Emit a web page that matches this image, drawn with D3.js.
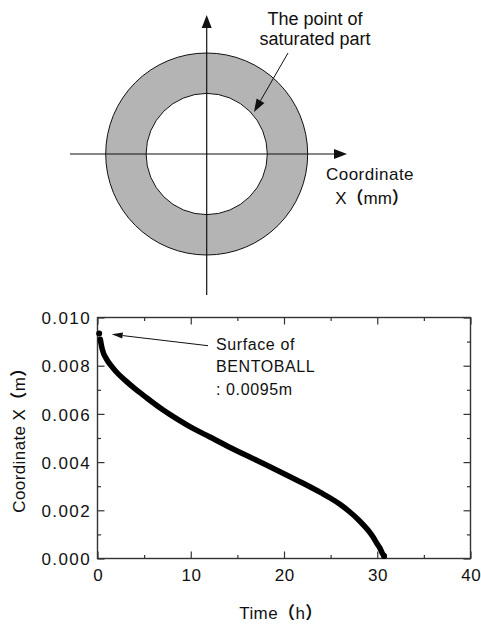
<!DOCTYPE html>
<html>
<head>
<meta charset="utf-8">
<script src="https://cdn.jsdelivr.net/npm/d3@7"></script>
<style>
  html, body { margin: 0; padding: 0; background: #fff; }
  svg { display: block; }
  text { font-family: "Liberation Sans", Arial, "Noto Sans CJK JP", sans-serif; fill: #111; }
  .paren { font-weight: 700; }
</style>
</head>
<body>
<svg id="chart" width="481" height="624"></svg>
<script>
// Saturation front position in the ball over time
const timeH = [0.18, 0.3, 0.5, 1, 1.5, 2, 3, 4, 5, 6, 7, 8, 9, 10, 12, 14, 16, 18, 20, 22, 24, 25, 26, 27, 28, 29, 29.5, 30, 30.3, 30.5, 30.73];
const coordX = [0.00934, 0.0091, 0.0087, 0.00825, 0.00798, 0.00775, 0.00738, 0.00705, 0.00675, 0.00645, 0.00617, 0.00592, 0.00568, 0.00545, 0.00505, 0.00465, 0.00427, 0.0039, 0.00352, 0.00313, 0.00272, 0.0025, 0.00225, 0.00195, 0.0016, 0.00118, 0.00092, 0.0006, 0.00042, 0.00025, 0.0001];

const xTicks = [0, 10, 20, 30, 40];
const yTicks = [0.000, 0.002, 0.004, 0.006, 0.008, 0.010];
const xMinor = [5, 15, 25, 35];
const yMinor = [0.001, 0.003, 0.005, 0.007, 0.009];

// Schematic ring of the ball cross-section (mm)
const ringRadii = { outer: 9.5, inner: 5.7 };

const svg = d3.select("#chart");

// text with bold full-width parentheses
function labelText(sel, str) {
  str.split(/([（）])/).filter(s => s.length).forEach(part => {
    const t = sel.append("tspan").text(part);
    if (part === "（" || part === "）") t.attr("class", "paren");
  });
  return sel;
}

// ---------- cross-section schematic ----------
const cx = 206.7, cy = 154;
const r = d3.scaleLinear().domain([0, ringRadii.outer]).range([0, 101]);

const ring = d3.arc()({ innerRadius: r(ringRadii.inner), outerRadius: r(ringRadii.outer), startAngle: 0, endAngle: 2 * Math.PI });
svg.append("path").attr("d", ring).attr("transform", `translate(${cx},${cy})`)
  .attr("fill", "#b4b4b4").attr("stroke", "none");
svg.append("circle").attr("cx", cx).attr("cy", cy).attr("r", r(ringRadii.outer))
  .attr("fill", "none").attr("stroke", "#111").attr("stroke-width", 1);
svg.append("circle").attr("cx", cx).attr("cy", cy).attr("r", r(ringRadii.inner))
  .attr("fill", "none").attr("stroke", "#111").attr("stroke-width", 1);

function arrow(x1, y1, x2, y2, len, half, width) {
  const a = Math.atan2(y2 - y1, x2 - x1);
  const bx = x2 - len * Math.cos(a), by = y2 - len * Math.sin(a);
  svg.append("line").attr("x1", x1).attr("y1", y1).attr("x2", bx).attr("y2", by)
    .attr("stroke", "#111").attr("stroke-width", width);
  const px = -Math.sin(a) * half, py = Math.cos(a) * half;
  svg.append("path")
    .attr("d", `M${x2},${y2}L${bx + px},${by + py}L${bx - px},${by - py}Z`)
    .attr("fill", "#111");
}

// coordinate axes of the schematic
arrow(70, cy, 347, cy, 13, 5, 1.2);
arrow(cx, 295, cx, 15, 13, 5, 1.2);

// pointer to the saturated part
arrow(288, 53, 254, 112, 13, 4.5, 1);

svg.append("text").attr("x", 315).attr("y", 25).attr("text-anchor", "middle")
  .style("font-size", "18px").text("The point of");
svg.append("text").attr("x", 315).attr("y", 45).attr("text-anchor", "middle")
  .style("font-size", "18px").text("saturated part");
svg.append("text").attr("x", 370).attr("y", 179.5).attr("text-anchor", "middle")
  .style("font-size", "17px").style("letter-spacing", "0.5px").text("Coordinate");
svg.append("text").attr("x", 372).attr("y", 203.5).attr("text-anchor", "middle")
  .style("font-size", "17px").call(labelText, "X（mm）");

// ---------- time history plot ----------
const L = 97.5, R = 470.5, T = 317.5, B = 558.5;
const x = d3.scaleLinear().domain([0, 40]).range([L, R]);
const y = d3.scaleLinear().domain([0, 0.010]).range([B, T]);

const tickFont = (g, ls) => g.selectAll("text")
  .style("font-size", "17px").style("letter-spacing", ls)
  .attr("fill", "#111");
const tickLine = g => g.selectAll("line").attr("stroke", "#333").attr("stroke-width", 1.2);

// frame
svg.append("rect").attr("x", L).attr("y", T).attr("width", R - L).attr("height", B - T)
  .attr("fill", "none").attr("stroke", "#333").attr("stroke-width", 1.4);

// bottom axis
svg.append("g").attr("transform", `translate(0,${B})`)
  .call(d3.axisBottom(x).tickValues(xTicks).tickFormat(d3.format("d")).tickSize(-7).tickPadding(10))
  .call(g => g.select(".domain").remove())
  .call(tickLine).call(tickFont, "0.6px")
  .call(g => g.selectAll("text").attr("dx", "0.3px"));
svg.append("g").attr("transform", `translate(0,${B})`)
  .call(d3.axisBottom(x).tickValues(xMinor).tickFormat("").tickSize(-3.5))
  .call(g => g.select(".domain").remove()).call(tickLine);

// top axis (ticks only)
svg.append("g").attr("transform", `translate(0,${T})`)
  .call(d3.axisTop(x).tickValues(xTicks).tickFormat("").tickSize(-7))
  .call(g => g.select(".domain").remove()).call(tickLine);
svg.append("g").attr("transform", `translate(0,${T})`)
  .call(d3.axisTop(x).tickValues(xMinor).tickFormat("").tickSize(-3.5))
  .call(g => g.select(".domain").remove()).call(tickLine);

// left axis
svg.append("g").attr("transform", `translate(${L},0)`)
  .call(d3.axisLeft(y).tickValues(yTicks).tickFormat(d3.format(".3f")).tickSize(-7).tickPadding(6.5))
  .call(g => g.select(".domain").remove())
  .call(tickLine).call(tickFont, "1.4px")
  .call(g => g.selectAll("text").attr("dy", "0.36em"));
svg.append("g").attr("transform", `translate(${L},0)`)
  .call(d3.axisLeft(y).tickValues(yMinor).tickFormat("").tickSize(-3.5))
  .call(g => g.select(".domain").remove()).call(tickLine);

// right axis (ticks only)
svg.append("g").attr("transform", `translate(${R},0)`)
  .call(d3.axisRight(y).tickValues(yTicks).tickFormat("").tickSize(-7))
  .call(g => g.select(".domain").remove()).call(tickLine);
svg.append("g").attr("transform", `translate(${R},0)`)
  .call(d3.axisRight(y).tickValues(yMinor).tickFormat("").tickSize(-3.5))
  .call(g => g.select(".domain").remove()).call(tickLine);

// axis titles
svg.append("text").attr("x", 281).attr("y", 618.5).attr("text-anchor", "middle")
  .style("font-size", "17px").style("letter-spacing", "0.4px").call(labelText, "Time（h）");
svg.append("text").attr("transform", "translate(24.5,436) rotate(-90)").attr("text-anchor", "middle")
  .style("font-size", "17px").style("letter-spacing", "0.4px").call(labelText, "Coordinate X（m）");

// saturation front curve
const pts = timeH.map((t, i) => [t, coordX[i]]);
svg.append("path").datum(pts.slice(1))
  .attr("d", d3.line().x(d => x(d[0])).y(d => y(d[1])).curve(d3.curveMonotoneX))
  .attr("fill", "none").attr("stroke", "#000").attr("stroke-width", 5.5)
  .attr("stroke-linecap", "round").attr("stroke-linejoin", "round");
svg.append("g").selectAll("circle").data([pts[0], pts[pts.length - 1]]).join("circle")
  .attr("cx", d => x(d[0])).attr("cy", d => y(d[1])).attr("r", 3).attr("fill", "#000");

// surface annotation
arrow(208, 345.7, 111.7, 334.3, 11, 3, 1);
const noteLines = ["Surface of", "BENTOBALL", ": 0.0095m"];
svg.append("g").selectAll("text").data(noteLines).join("text")
  .attr("x", 216).attr("y", (d, i) => 349.5 + i * 22.5)
  .style("font-size", "16px").style("letter-spacing", "0.6px").text(d => d);
</script>
</body>
</html>
